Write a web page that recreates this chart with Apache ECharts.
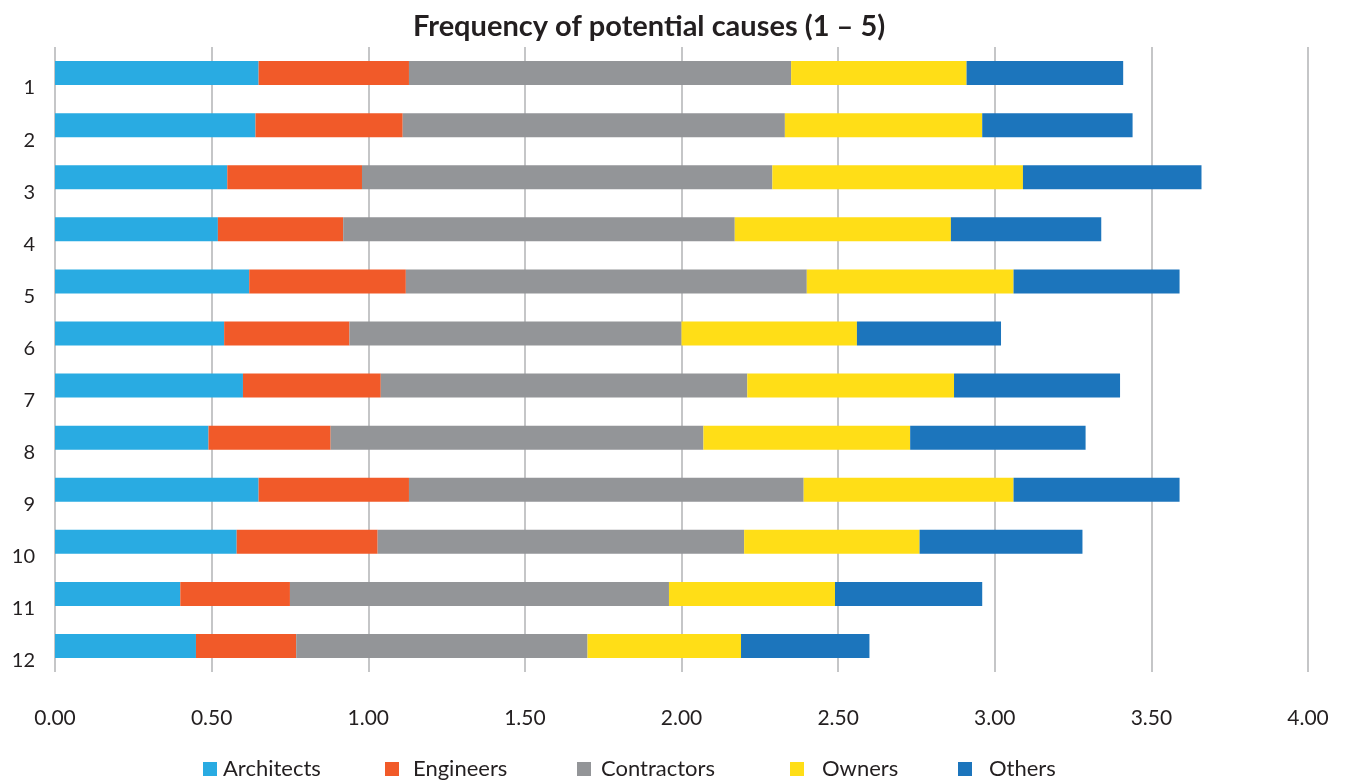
<!DOCTYPE html>
<html>
<head>
<meta charset="utf-8">
<title>Frequency of potential causes</title>
<script src="https://cdn.jsdelivr.net/npm/echarts@6/dist/echarts.min.js"></script>
<style>
  html, body { margin: 0; padding: 0; background: #ffffff; }
  #chart { width: 1346px; height: 784px; }
</style>
</head>
<body>
<div id="chart"></div>
<script>
// Potential causes, listed top to bottom
const causes = ['1', '2', '3', '4', '5', '6', '7', '8', '9', '10', '11', '12'];

// Stakeholder groups (stack order, left to right)
const groups = ['Architects', 'Engineers', 'Contractors', 'Owners', 'Others'];

// Segment lengths per cause, one array per group
const architects  = [0.65, 0.64, 0.55, 0.52, 0.62, 0.54, 0.60, 0.49, 0.65, 0.58, 0.40, 0.45];
const engineers   = [0.48, 0.47, 0.43, 0.40, 0.50, 0.40, 0.44, 0.39, 0.48, 0.45, 0.35, 0.32];
const contractors = [1.22, 1.22, 1.31, 1.25, 1.28, 1.06, 1.17, 1.19, 1.26, 1.17, 1.21, 0.93];
const owners      = [0.56, 0.63, 0.80, 0.69, 0.66, 0.56, 0.66, 0.66, 0.67, 0.56, 0.53, 0.49];
const others      = [0.50, 0.48, 0.57, 0.48, 0.53, 0.46, 0.53, 0.56, 0.53, 0.52, 0.47, 0.41];

const groupValues = [architects, engineers, contractors, owners, others];
const groupColors = ['#29abe2', '#f15a29', '#939598', '#ffde17', '#1c75bc'];

// Value-axis ticks
const xMin = 0, xMax = 4, xStep = 0.5;

const FONT = 'Lato, "Open Sans", sans-serif';

// Legend placement: x of each icon and extra space before its text
const legendX = [203, 385, 577, 790, 958];
const legendTextPad = [1, 9, 5, 13, 12];

const chart = echarts.init(document.getElementById('chart'), null, { renderer: 'canvas' });

const option = {
  backgroundColor: '#ffffff',
  animation: false,
  title: {
    text: 'Frequency of potential causes (1 \u2013 5)',
    left: 408,
    top: 7,
    textStyle: { fontFamily: FONT, fontSize: 29, fontWeight: 'bold', color: '#231f20' }
  },
  legend: groups.map((g, i) => ({
    data: [g],
    left: legendX[i],
    top: 758,
    padding: 0,
    itemWidth: 14,
    itemHeight: 14,
    icon: 'rect',
    textStyle: {
      fontFamily: FONT, fontSize: 22, color: '#231f20',
      padding: [0, 0, 0, legendTextPad[i]]
    }
  })),
  grid: { left: 55, right: 38, top: 47, bottom: 112, containLabel: false },
  xAxis: {
    type: 'value',
    min: xMin,
    max: xMax,
    interval: xStep,
    axisLine: { show: false },
    axisTick: { show: false },
    splitLine: { show: true, lineStyle: { color: '#b7b8ba', width: 1.6 } },
    axisLabel: {
      margin: 36,
      fontFamily: FONT, fontSize: 21, color: '#231f20',
      formatter: v => v.toFixed(2)
    }
  },
  yAxis: {
    type: 'category',
    data: causes,
    inverse: true,
    axisLine: { show: false },
    axisTick: { show: false },
    splitLine: { show: false },
    axisLabel: {
      margin: 20,
      fontFamily: FONT, fontSize: 20, color: '#231f20',
      verticalAlign: 'top',
      lineHeight: 30
    }
  },
  series: groups.map((g, i) => ({
    name: g,
    type: 'bar',
    stack: 'total',
    barWidth: 24,
    data: groupValues[i],
    itemStyle: { color: groupColors[i] },
    emphasis: { disabled: true }
  }))
};

chart.setOption(option);
</script>
</body>
</html>
